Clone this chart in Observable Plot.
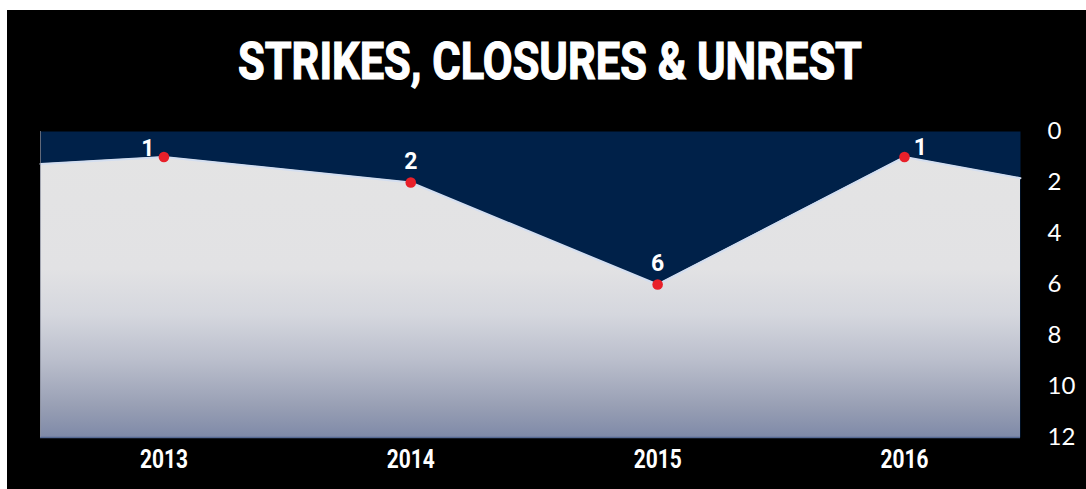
<!DOCTYPE html>
<html>
<head>
<meta charset="utf-8">
<script src="https://cdn.jsdelivr.net/npm/d3@7"></script>
<script src="https://cdn.jsdelivr.net/npm/@observablehq/plot@0.6"></script>
<style>
  html, body { margin: 0; padding: 0; background: #ffffff; }
  #card { position: absolute; left: 7px; top: 10px; width: 1079px; height: 479px; background: #000; overflow: hidden; }
  #title { position: absolute; left: 0; top: 0; }
  #chart { position: absolute; left: 0; top: 90px; }
</style>
</head>
<body>
<div id="card">
  <div id="title"></div>
  <div id="chart"></div>
</div>
<script>
// ---- data ----
const titleText = "STRIKES, CLOSURES & UNREST";
const years = [2013, 2014, 2015, 2016];
const counts = [1, 2, 6, 1];
// where the filled shape meets the left and right edges of the plot
const edgeYears = [2012.5, 2016.47];
const edgeCounts = [1.27, 1.83];
const yTicks = [0, 2, 4, 6, 8, 10, 12];

const points = years.map((year, i) => ({year, count: counts[i]}));
const shape = [
  {year: edgeYears[0], count: edgeCounts[0]},
  ...points,
  {year: edgeYears[1], count: edgeCounts[1]}
];

// ---- title ----
const tsvg = d3.select("#title").append("svg").attr("width", 1079).attr("height", 90);
tsvg.append("text")
  .attr("x", 543).attr("y", 69)
  .attr("text-anchor", "middle")
  .attr("fill", "#fff")
  .attr("stroke", "#fff")
  .attr("stroke-width", 1.2)
  .attr("font-family", "Roboto, 'Liberation Sans', sans-serif")
  .attr("font-weight", 700)
  .attr("font-size", 52)
  .attr("textLength", 624)
  .attr("lengthAdjust", "spacingAndGlyphs")
  .text(titleText);

// ---- chart ----
const plot = Plot.plot({
  width: 1079,
  height: 380,
  marginLeft: 33,
  marginRight: 66,
  marginTop: 31,
  marginBottom: 43,
  style: {background: "transparent", color: "#fff", overflow: "visible"},
  x: {domain: [edgeYears[0], edgeYears[1]]},
  y: {domain: [0, 12], reverse: true},
  marks: [
    Plot.frame({fill: "#002149", stroke: null}),
    Plot.area(shape, {x1: "year", y1: "count", y2: 12, fill: "url(#fillGrad)"}),
    Plot.line(shape, {x: "year", y: "count", stroke: "#d3def0", strokeWidth: 2}),
    Plot.ruleY([12], {stroke: "#566a94", strokeWidth: 1.5}),
    Plot.ruleX([edgeYears[0]], {stroke: "#8a8f9c", strokeWidth: 1, strokeOpacity: 0.7}),
    Plot.dot(points, {x: "year", y: "count", r: 5.3, fill: "#e8202a", stroke: null}),
    Plot.text(points, {
      x: "year", y: "count",
      text: d => String(d.count),
      fill: "#fff",
      fontFamily: "Roboto, sans-serif",
      fontWeight: 700,
      fontSize: 23,
      className: "vlabel"
    }),
    Plot.axisY({
      anchor: "right", ticks: yTicks, tickSize: 0, tickPadding: 27,
      textAnchor: "start", fontSize: 24, fontFamily: "Lato, 'Open Sans', sans-serif",
      label: null, tickFormat: d => String(d)
    }),
    Plot.axisX({
      ticks: years, tickSize: 0, tickPadding: 12,
      fontSize: 26, fontWeight: 700, fontFamily: "Roboto, sans-serif",
      label: null, tickFormat: d => String(d)
    })
  ]
});

// vertical gradient for the filled area
const svg = d3.select(plot);
const grad = svg.insert("defs", ":first-child").append("linearGradient")
  .attr("id", "fillGrad")
  .attr("gradientUnits", "userSpaceOnUse")
  .attr("x1", 0).attr("x2", 0).attr("y1", 31).attr("y2", 337);
[[0, "#e4e4e4"], [0.45, "#e2e2e4"], [0.6, "#d5d7de"], [0.75, "#babecc"], [0.9, "#989fb4"], [1, "#7f8aa8"]]
  .forEach(([o, c]) => grad.append("stop").attr("offset", o).attr("stop-color", c));

// offset value labels: first to upper-left, last to upper-right, others above
svg.selectAll("g.vlabel text").each(function(d, i, nodes) {
  const n = nodes.length;
  const el = d3.select(this);
  if (i === 0) el.attr("dx", -16).attr("dy", -8);
  else if (i === n - 1) el.attr("dx", 16).attr("dy", -9);
  else el.attr("dx", 0).attr("dy", -21);
});

// condensed year labels
svg.selectAll("g[aria-label='x-axis tick label'] text")
  .attr("textLength", 48).attr("lengthAdjust", "spacingAndGlyphs");

document.getElementById("chart").appendChild(plot);
</script>
</body>
</html>
